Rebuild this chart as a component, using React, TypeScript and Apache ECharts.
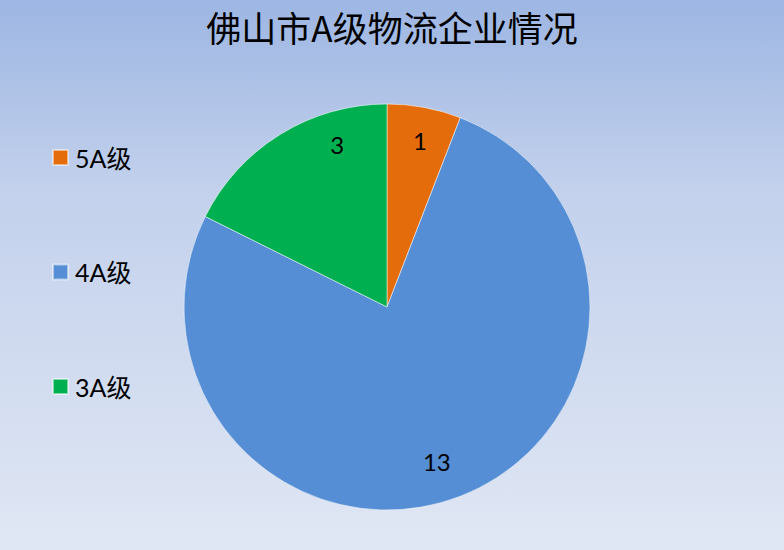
import { useEffect, useRef } from "react";
import * as echarts from "echarts";

const TITLE = "佛山市A级物流企业情况";
const CATEGORIES = ["5A级", "4A级", "3A级"];
const VALUES = [1, 13, 3];
const COLORS = ["#e46c0a", "#558ed5", "#00b050"];
// nudges so the value labels sit where the source chart's "best fit" put them
const LABEL_OFFSETS = [[2, -1], [-11, -3], [39, -19]];

const FONT = "Lato, 'Noto Sans CJK SC', sans-serif";

export default function App() {
  const ref = useRef<HTMLDivElement>(null);

  useEffect(() => {
    if (!ref.current) return;
    const chart = echarts.init(ref.current, undefined, { renderer: "svg" });

    chart.setOption({
      animation: false,
      backgroundColor: {
        type: "linear",
        x: 0,
        y: 0,
        x2: 0,
        y2: 1,
        colorStops: [
          { offset: 0, color: "#9db6e3" },
          { offset: 0.35, color: "#c3d1ec" },
          { offset: 1, color: "#e0e7f4" },
        ],
      },
      title: {
        text: TITLE,
        left: "center",
        top: 4,
        textStyle: {
          fontFamily: "'Noto Sans CJK SC', sans-serif",
          fontSize: 35,
          fontWeight: "normal",
          color: "#000",
        },
      },
      legend: {
        orient: "vertical",
        left: 52,
        top: 145,
        padding: 0,
        itemWidth: 15,
        itemHeight: 15,
        itemGap: 89.5,
        icon: "rect",
        data: CATEGORIES,
        textStyle: { fontFamily: FONT, fontSize: 25, color: "#000", padding: [0, 0, 0, 2] },
      },
      series: [
        {
          type: "pie",
          center: [387, 307],
          radius: 203,
          startAngle: 90,
          clockwise: true,
          label: { show: false },
          labelLine: { show: false },
          itemStyle: { borderColor: "rgba(255,255,255,0.5)", borderWidth: 1 },
          data: CATEGORIES.map((name, i) => ({
            name,
            value: VALUES[i],
            itemStyle: { color: COLORS[i] },
          })),
        },
        {
          type: "pie",
          center: [387, 307],
          radius: [128, 203],
          startAngle: 90,
          clockwise: true,
          silent: true,
          itemStyle: { color: "rgba(0,0,0,0)" },
          label: {
            show: true,
            position: "inside",
            formatter: "{c}",
            fontFamily: FONT,
            fontSize: 24,
            color: "#000",
          },
          labelLine: { show: false },
          data: VALUES.map((value, i) => ({
            value,
            label: { offset: LABEL_OFFSETS[i] },
          })),
        },
      ],
    });

    return () => chart.dispose();
  }, []);

  return (
    <div
      ref={ref}
      style={{ position: "absolute", left: 0, top: 0, width: 784, height: 550 }}
    />
  );
}
